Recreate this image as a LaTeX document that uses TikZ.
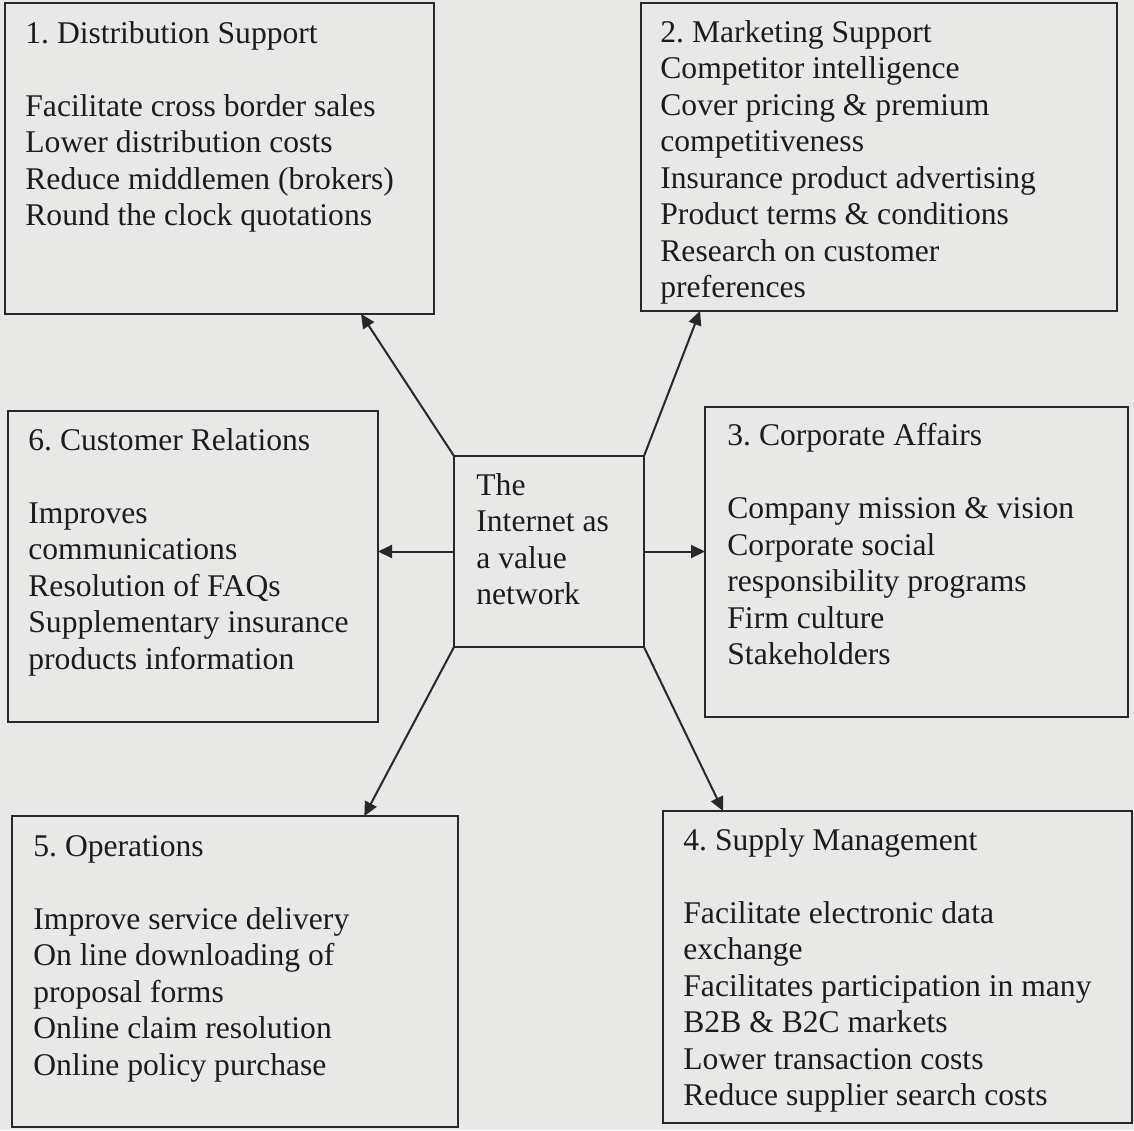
\documentclass[tikz,border=0pt]{standalone}
\usepackage{fontspec}
\setmainfont{Liberation Serif}
\usepackage{tikz}
\usetikzlibrary{arrows.meta}
\usetikzlibrary{calc}
\definecolor{paper}{RGB}{232,232,230}
\definecolor{ink}{RGB}{40,40,40}
\definecolor{lettering}{RGB}{28,28,28}

\begin{document}
\begin{tikzpicture}[x=0.5pt,y=-0.5pt]
  \tikzset{
box/.style={draw=ink,
  line width=1pt,
    anchor=north west,
    inner sep=0pt, outer sep=0pt},
txt/.style={anchor=north west, inner sep=0pt, align=left, text=lettering,
    font=\fontsize{15.8}{18.25}\selectfont\frenchspacing},
link/.style={draw=ink, line width=1pt, -{Triangle[length=7pt,width=6.5pt]}},
}

  % page
  \fill [paper] (0,0) rectangle (1134,1130);
  \useasboundingbox (0,0) rectangle (1134,1130);

  % Boxes
  \node [box, minimum width=214.5pt, minimum height=155.5pt] (dist) at (5,3) {};
  \node [box, minimum width=238pt, minimum height=154pt] (mkt) at (641,3) {};
  \node [box, minimum width=211.5pt, minimum height=155pt] (corp) at (705,407) {};
  \node [box, minimum width=234.5pt, minimum height=156pt] (supply) at (663,811) {};
  \node [box, minimum width=223pt, minimum height=155.5pt] (ops) at (12,816) {};
  \node [box, minimum width=185pt, minimum height=155.5pt] (cust) at (8,411) {};
  \node [box, minimum width=95pt, minimum height=95.5pt] (net) at (454,456) {};

  % Texts
  \node [txt] (distt) at ([shift={(20,18)}]dist.north west) {1. Distribution Support\\[18.25pt]
    Facilitate cross border sales\\ Lower distribution costs\\
    Reduce middlemen (brokers)\\ Round the clock quotations};
  \node [txt] (mktt) at ([shift={(19,17)}]mkt.north west) {2. Marketing Support\\
    Competitor intelligence\\ Cover pricing \& premium\\ competitiveness\\
    Insurance product advertising\\ Product terms \& conditions\\
    Research on customer\\ preferences};
  \node [txt] (corpt) at ([shift={(22,16)}]corp.north west) {3. Corporate Affairs\\[18.25pt]
    Company mission \& vision\\ Corporate social\\ responsibility programs\\
    Firm culture\\ Stakeholders};
  \node [txt] (supplyt) at ([shift={(20,17)}]supply.north west) {4. Supply Management\\[18.25pt]
    Facilitate electronic data\\ exchange\\ Facilitates participation in many\\
    B2B \& B2C markets\\ Lower transaction costs\\ Reduce supplier search costs};
  \node [txt] (opst) at ([shift={(21,19)}]ops.north west) {5. Operations\\[18.25pt]
    Improve service delivery\\ On line downloading of\\ proposal forms\\
    Online claim resolution\\ Online policy purchase};
  \node [txt] (custt) at ([shift={(20,17)}]cust.north west) {6. Customer Relations\\[18.25pt]
    Improves\\ communications\\ Resolution of FAQs\\ Supplementary insurance\\
    products information};
  \node [txt] (nett) at ([shift={(22,17)}]net.north west) {The\\ Internet as\\ a value\\ network};

  % Arrows out of the centre
  \draw [link] (net.north west) -- ($(dist.south west)!0.83!(dist.south east)$);
  \draw [link] (net.north east) -- ($(mkt.south west)!0.124!(mkt.south east)$);
  \draw [link] (net.east) -- (net.east -| corp.west);
  \draw [link] (net.west) -- (net.west -| cust.east);
  \draw [link] (net.south west) -- ($(ops.north west)!0.79!(ops.north east)$);
  \draw [link] (net.south east) -- ($(supply.north west)!0.128!(supply.north east)$);
\end{tikzpicture}
\end{document}
